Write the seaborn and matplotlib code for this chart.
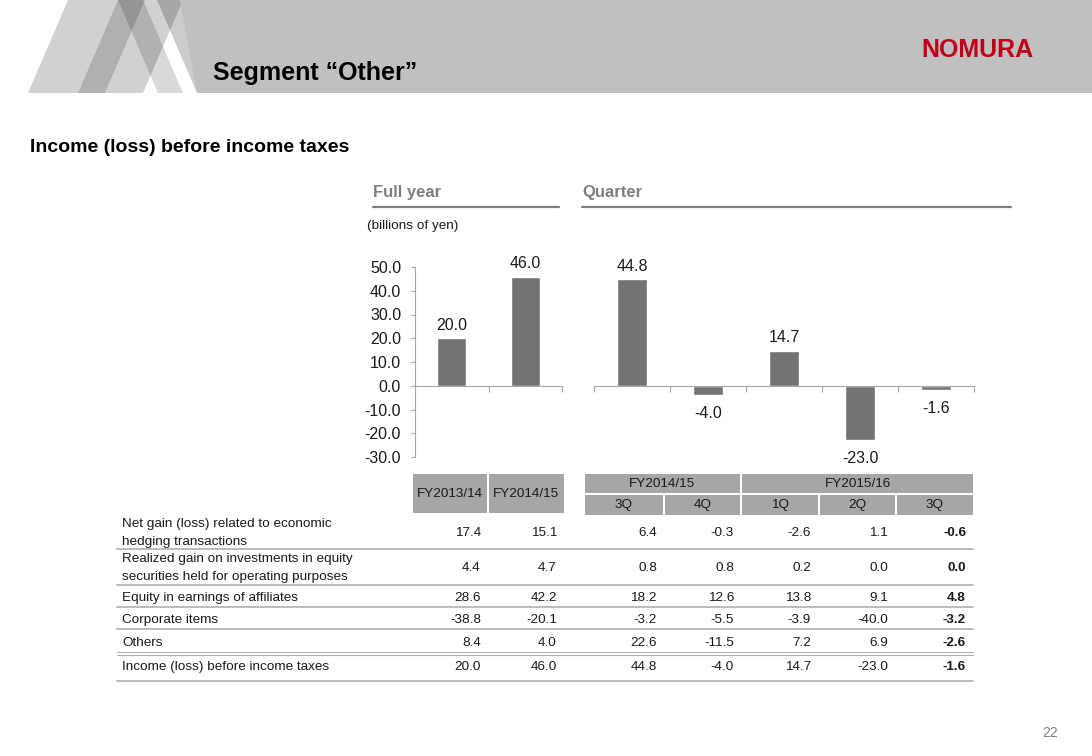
import numpy as np
import matplotlib.pyplot as plt
import seaborn as sns
from matplotlib.patches import Polygon, Rectangle
from matplotlib.ticker import FormatStrFormatter

# chart data (billions of yen)
fy_labels = ["FY2013/14", "FY2014/15"]
fy_income = [20.0, 46.0]
q_groups = ["FY2014/15", "FY2015/16"]
q_labels = ["3Q", "4Q", "1Q", "2Q", "3Q"]
q_keys = ["FY14 3Q", "FY14 4Q", "FY15 1Q", "FY15 2Q", "FY15 3Q"]
q_income = [44.8, -4.0, 14.7, -23.0, -1.6]

# table rows
row_labels = [
    "Net gain (loss) related to economic\nhedging transactions",
    "Realized gain on investments in equity\nsecurities held for operating purposes",
    "Equity in earnings of affiliates",
    "Corporate items",
    "Others",
    "Income (loss) before income taxes",
]
net_gain = [17.4, 15.1, 6.4, -0.3, -2.6, 1.1, -0.6]
realized_gain = [4.4, 4.7, 0.8, 0.8, 0.2, 0.0, 0.0]
equity_affiliates = [28.6, 42.2, 18.2, 12.6, 13.8, 9.1, 4.8]
corporate_items = [-38.8, -20.1, -3.2, -5.5, -3.9, -40.0, -3.2]
others = [8.4, 4.0, 22.6, -11.5, 7.2, 6.9, -2.6]
income_total = fy_income + q_income
table_rows = [net_gain, realized_gain, equity_affiliates, corporate_items, others, income_total]

BAR = '#737373'
AXIS = '#a6a6a6'
TXT = '#1a1a1a'

sns.set_style("white")
plt.rcParams['font.family'] = ['Liberation Sans', 'DejaVu Sans']

W, H = 1092, 756
fig = plt.figure(figsize=(W / 100, H / 100), dpi=100)

# background axes in pixel coordinates
bg = fig.add_axes([0, 0, 1, 1])
bg.set_xlim(0, W)
bg.set_ylim(H, 0)
bg.axis('off')


def ax_rect(x0, y0, x1, y1):
    return [x0 / W, 1 - y1 / H, (x1 - x0) / W, (y1 - y0) / H]


# header band with stripes
for pts, a in [
    ([(68, 0), (118, 0), (78, 93), (28, 93)], 0.18),
    ([(118, 0), (145, 0), (105, 93), (78, 93)], 0.31),
    ([(145, 0), (183, 0), (143, 93), (105, 93)], 0.18),
    ([(118, 0), (143, 0), (183, 93), (158, 93)], 0.15),
    ([(157, 0), (180, 0), (220, 93), (197, 93)], 0.20),
]:
    bg.add_patch(Polygon(pts, closed=True, facecolor='black', alpha=a, lw=0))
bg.add_patch(Polygon([(180, 0), (W, 0), (W, 93), (197, 93)], closed=True,
                     facecolor='#c0c0c0', lw=0))

bg.text(213, 80, 'Segment \u201cOther\u201d', fontsize=18, fontweight='bold',
        color='black', va='baseline')
bg.text(921, 57, 'NOMURA', fontsize=18, fontweight='bold', color='#c00018',
        va='baseline')
bg.text(30, 152, 'Income (loss) before income taxes', fontsize=14,
        fontweight='bold', color='black', va='baseline')

# section headings
bg.text(373, 197, 'Full year', fontsize=12, fontweight='bold', color='#7f7f7f', va='baseline')
bg.plot([373, 559], [207, 207], color='#7f7f7f', lw=1.6)
bg.text(582, 197, 'Quarter', fontsize=12, fontweight='bold', color='#7f7f7f', va='baseline')
bg.plot([582, 1011], [207, 207], color='#7f7f7f', lw=1.6)
bg.text(367, 229, '(billions of yen)', fontsize=9.7, color=TXT, va='baseline')

# full year chart
ax1 = fig.add_axes(ax_rect(415, 267, 562, 457))
sns.barplot(x=fy_labels, y=fy_income, color=BAR, saturation=1, width=0.39, ax=ax1)
# quarter chart
ax2 = fig.add_axes(ax_rect(594, 267, 974, 457))
sns.barplot(x=q_keys, y=q_income, color=BAR, saturation=1, width=0.39, ax=ax2)

for ax, n, vals in [(ax1, len(fy_labels), fy_income), (ax2, len(q_keys), q_income)]:
    ax.patch.set_alpha(0)
    ax.set_ylim(-30, 50)
    ax.set_xlim(-0.5, n - 0.5)
    ax.set_xlabel('')
    ax.set_ylabel('')
    for s in ['top', 'right']:
        ax.spines[s].set_visible(False)
    ax.spines['bottom'].set_position(('data', 0))
    ax.spines['bottom'].set_color(AXIS)
    ax.spines['bottom'].set_linewidth(0.8)
    ax.set_xticks(np.arange(n + 1) - 0.5)
    ax.set_xticklabels([])
    ax.tick_params(axis='x', direction='out', length=4, width=0.8, color=AXIS, bottom=True)
    c = ax.containers[0]
    pos = [f'{v:.1f}' if v >= 0 else '' for v in vals]
    neg = [f'{v:.1f}' if v < 0 else '' for v in vals]
    ax.bar_label(c, labels=pos, padding=4, fontsize=11.5, color=TXT)
    ax.bar_label(c, labels=neg, padding=8, fontsize=11.5, color=TXT)

ax1.set_xticks([0.5, 1.5])
ax1.set_xticklabels([])
ax1.spines['left'].set_color(AXIS)
ax1.spines['left'].set_linewidth(0.8)
ax1.set_yticks(np.arange(-30, 51, 10))
ax1.yaxis.set_major_formatter(FormatStrFormatter('%.1f'))
ax1.tick_params(axis='y', direction='out', length=3, width=0.8, color=AXIS,
                labelsize=11.5, labelcolor=TXT, pad=7, left=True)
ax2.spines['left'].set_visible(False)
ax2.set_yticks([])

# table header cells
HEAD = '#a6a6a6'
for (x0, x1), lab in zip([(413, 487), (489, 564)], fy_labels):
    bg.add_patch(Rectangle((x0, 474), x1 - x0, 39, facecolor=HEAD, lw=0))
    bg.text((x0 + x1) / 2, 494, lab, fontsize=9.7, color=TXT, ha='center', va='center')
for (x0, x1), lab in zip([(585, 740), (742, 973)], q_groups):
    bg.add_patch(Rectangle((x0, 474), x1 - x0, 19, facecolor=HEAD, lw=0))
    bg.text((x0 + x1) / 2, 484, lab, fontsize=9.7, color=TXT, ha='center', va='center')
q_cells = [(585, 663), (665, 740), (742, 818), (820, 895), (897, 973)]
for (x0, x1), lab in zip(q_cells, q_labels):
    bg.add_patch(Rectangle((x0, 495), x1 - x0, 20, facecolor=HEAD, lw=0))
    bg.text((x0 + x1) / 2, 505, lab, fontsize=9.7, color=TXT, ha='center', va='center')

# table body
row_y = [533, 568, 598, 620, 643, 667]
col_right = [481, 557, 657, 734, 811, 888, 966]
for y, lab, vals in zip(row_y, row_labels, table_rows):
    lines = lab.split('\n')
    for i, ln in enumerate(lines):
        bg.text(122, y + (i - (len(lines) - 1) / 2) * 18, ln, fontsize=9.7,
                color=TXT, ha='left', va='center')
    for j, (x, v) in enumerate(zip(col_right, vals)):
        bg.text(x, y, f'{v:.1f}', fontsize=9.7, color=TXT, ha='right', va='center',
                fontweight='bold' if j == len(vals) - 1 else 'normal')

for y in [549, 585, 607, 629, 681]:
    bg.plot([117, 973], [y, y], color='#b0b0b0', lw=1.2)
for y in [652, 655]:
    bg.plot([117, 973], [y, y], color='#b0b0b0', lw=0.8)

bg.text(1058, 737, '22', fontsize=10, color='#808080', ha='right', va='baseline')

fig.savefig('out.png', dpi=100)
